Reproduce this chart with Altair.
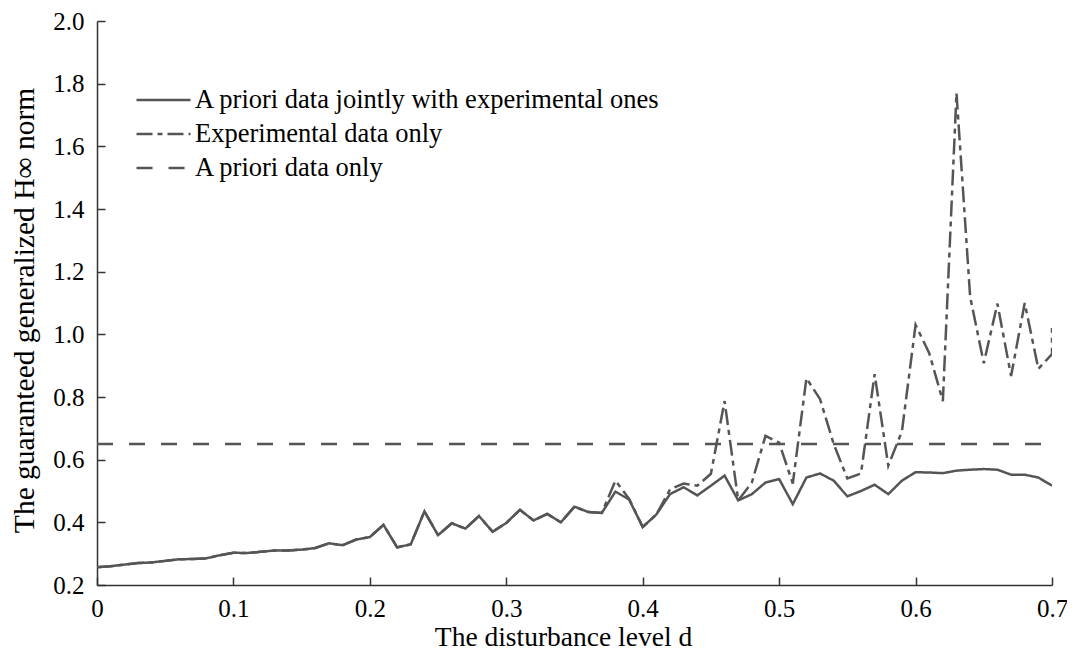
import altair as alt
import pandas as pd

# Disturbance level grid (x)
d_values = [0.00, 0.01, 0.02, 0.03, 0.04, 0.05, 0.06, 0.07, 0.08, 0.09,
            0.10, 0.11, 0.12, 0.13, 0.14, 0.15, 0.16, 0.17, 0.18, 0.19,
            0.20, 0.21, 0.22, 0.23, 0.24, 0.25, 0.26, 0.27, 0.28, 0.29,
            0.30, 0.31, 0.32, 0.33, 0.34, 0.35, 0.36, 0.37, 0.38, 0.39,
            0.40, 0.41, 0.42, 0.43, 0.44, 0.45, 0.46, 0.47, 0.48, 0.49,
            0.50, 0.51, 0.52, 0.53, 0.54, 0.55, 0.56, 0.57, 0.58, 0.59,
            0.60, 0.61, 0.62, 0.63, 0.64, 0.65, 0.66, 0.67, 0.68, 0.69,
            0.70]

# A priori data jointly with experimental ones
joint = [0.257, 0.260, 0.265, 0.270, 0.272, 0.277, 0.282, 0.283, 0.285, 0.295,
         0.303, 0.302, 0.306, 0.310, 0.310, 0.313, 0.318, 0.333, 0.327, 0.345,
         0.353, 0.392, 0.320, 0.330, 0.435, 0.359, 0.397, 0.380, 0.420, 0.370,
         0.398, 0.440, 0.406, 0.427, 0.400, 0.450, 0.433, 0.430, 0.498, 0.473,
         0.385, 0.425, 0.490, 0.512, 0.486, 0.517, 0.549, 0.470, 0.490, 0.527,
         0.538, 0.458, 0.543, 0.556, 0.533, 0.483, 0.500, 0.520, 0.490, 0.533,
         0.560, 0.559, 0.557, 0.565, 0.568, 0.570, 0.568, 0.552, 0.552, 0.543,
         0.517]

# Experimental data only (last entry: rise at the right edge)
experimental = [0.257, 0.260, 0.265, 0.270, 0.272, 0.277, 0.282, 0.283, 0.285, 0.295,
                0.303, 0.302, 0.306, 0.310, 0.310, 0.313, 0.318, 0.333, 0.327, 0.345,
                0.353, 0.392, 0.320, 0.330, 0.435, 0.359, 0.397, 0.380, 0.420, 0.370,
                0.398, 0.440, 0.406, 0.427, 0.400, 0.450, 0.433, 0.430, 0.533, 0.475,
                0.385, 0.425, 0.505, 0.524, 0.517, 0.555, 0.787, 0.470, 0.527, 0.676,
                0.654, 0.524, 0.860, 0.793, 0.650, 0.540, 0.556, 0.873, 0.581, 0.690,
                1.030, 0.940, 0.787, 1.770, 1.120, 0.908, 1.098, 0.867, 1.100, 0.890,
                0.937, 1.020]
experimental_d = d_values + [0.70]

# A priori data only (constant level)
apriori_level = 0.65

series_names = ["A priori data jointly with experimental ones",
                "Experimental data only",
                "A priori data only"]

y_ticks = [0.2, 0.4, 0.6, 0.8, 1.0, 1.2, 1.4, 1.6, 1.8, 2.0]
x_ticks = [0.0, 0.1, 0.2, 0.3, 0.4, 0.5, 0.6, 0.7]

rows = []
for i, (d, v) in enumerate(zip(d_values, joint)):
    rows.append({"d": d, "v": v, "series": series_names[0], "idx": i})
for i, (d, v) in enumerate(zip(experimental_d, experimental)):
    rows.append({"d": d, "v": v, "series": series_names[1], "idx": i})
for i, d in enumerate([d_values[0], d_values[-1]]):
    rows.append({"d": d, "v": apriori_level, "series": series_names[2], "idx": i})
df = pd.DataFrame(rows)

FONT = "Liberation Serif"
LINE = "#555555"
AXC = "#333333"

x_scale = alt.Scale(domain=[0, 0.7], nice=False, zero=False)
y_scale = alt.Scale(domain=[0.2, 2.0], nice=False, zero=False)

x_axis_main = alt.Axis(orient="bottom", offset=-8, tickSize=8, tickWidth=1.5,
                       tickColor=AXC, domain=False, grid=False, values=x_ticks,
                       labelExpr="datum.value == 0 ? '0' : format(datum.value, '.1f')",
                       labelFont=FONT, labelFontSize=25, labelColor="black",
                       labelPadding=11, labelFlush=False,
                       title="The disturbance level d", titleFont=FONT,
                       titleFontSize=27.5, titleFontWeight="normal",
                       titleColor="black", titlePadding=2, titleX=466)
y_axis_main = alt.Axis(orient="left", offset=-8, tickSize=8, tickWidth=1.5,
                       tickColor=AXC, domain=False, grid=False, values=y_ticks,
                       format=".1f", labelFont=FONT, labelFontSize=25,
                       labelColor="black", labelPadding=13, labelFlush=False,
                       title="The guaranteed generalized H∞ norm", titleFont=FONT,
                       titleFontSize=29.5, titleFontWeight="normal",
                       titleColor="black", titlePadding=13, titleY=289)

lines = alt.Chart(df).mark_line(strokeWidth=2.5, color=LINE, clip=True).encode(
    x=alt.X("d:Q", scale=x_scale, axis=x_axis_main),
    y=alt.Y("v:Q", scale=y_scale, axis=y_axis_main),
    strokeDash=alt.StrokeDash(
        "series:N",
        scale=alt.Scale(domain=series_names,
                        range=[[1, 0], [16, 5, 5, 5], [16, 16]]),
        legend=alt.Legend(orient="none", legendX=38, legendY=62, title="",
                          labelFont=FONT, labelFontSize=26.5, labelColor="black",
                          symbolType="stroke", symbolSize=2916,
                          symbolStrokeWidth=2.5, symbolStrokeColor=LINE,
                          labelOffset=3, rowPadding=0, clipHeight=34,
                          labelLimit=0)),
    detail="series:N",
    order="idx:Q",
)

frame = alt.Chart(df).mark_point(opacity=0).encode(
    x=alt.X("d:Q", scale=x_scale,
            axis=alt.Axis(orient="bottom", offset=0, domain=True,
                          domainColor=AXC, domainWidth=1.5, ticks=False,
                          labels=False, grid=False, title="")),
    y=alt.Y("v:Q", scale=y_scale,
            axis=alt.Axis(orient="left", offset=0, domain=True,
                          domainColor=AXC, domainWidth=1.5, ticks=False,
                          labels=False, grid=False, title="")),
)

chart = alt.layer(lines, frame).resolve_axis(
    x="independent", y="independent"
).properties(
    width=955, height=564,
    autosize=alt.AutoSizeParams(type="none"),
    padding={"left": 89, "top": 13, "right": 15, "bottom": 66},
    background="white",
).configure_view(stroke=None)

chart.save("out.html", embed_options={"renderer": "svg", "actions": False})
